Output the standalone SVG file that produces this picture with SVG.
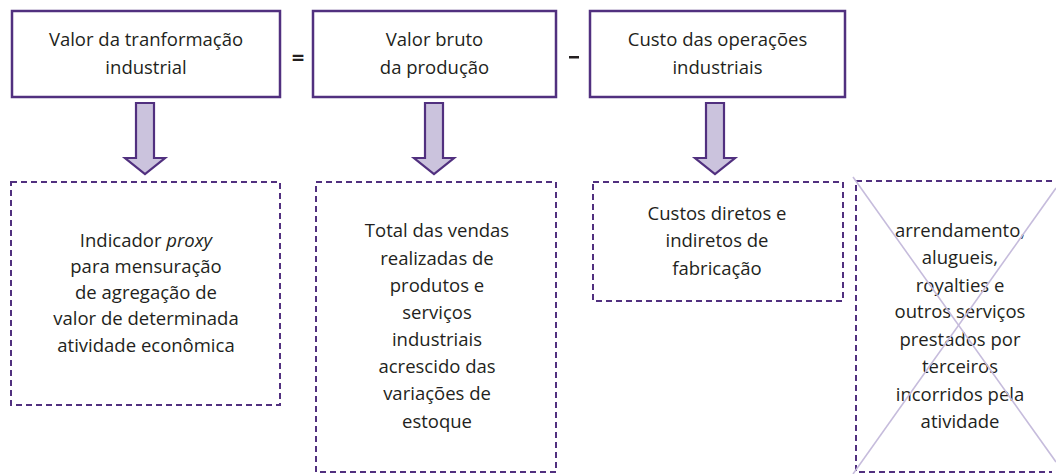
<svg xmlns="http://www.w3.org/2000/svg" width="1056" height="474" viewBox="0 0 1056 474">
<style>
.box{fill:#fff;stroke:#51307f;stroke-width:2.5}
.dbox{fill:none;stroke:#51307f;stroke-width:2;stroke-dasharray:6 4}
.arr{fill:#cbc3dd;stroke:#51307f;stroke-width:2.2;stroke-linejoin:miter}
.t{font-family:"Open Sans","Liberation Sans",sans-serif;font-size:18.5px;fill:#231f20;text-anchor:middle}
.x{stroke:#c6bcdc;stroke-width:1.6}
</style>
<rect width="1056" height="474" fill="#fff"/>
<g id="n1"><rect class="box" x="12" y="11" width="268" height="86"/>
<text class="t" x="146" y="46">Valor da tranformação</text><text class="t" x="146" y="74">industrial</text></g>
<g id="n2"><rect class="box" x="313" y="11" width="243" height="86"/>
<text class="t" x="434.5" y="46">Valor bruto</text><text class="t" x="434.5" y="74">da produção</text></g>
<g id="n3"><rect class="box" x="590" y="11" width="255" height="86"/>
<text class="t" x="717.5" y="46">Custo das operações</text><text class="t" x="717.5" y="74">industriais</text></g>
<g id="ops"><text class="t" x="298" y="65" style="font-size:22px;font-weight:bold">=</text><rect x="569" y="56" width="10" height="2.5" fill="#231f20"/></g>
<g id="connectors">
<path class="arr" d="M136,103 H154 V158 H165 L145,174 L125,158 H136 Z"/>
<path class="arr" d="M425,103 H443 V158 H454 L434,174 L414,158 H425 Z"/>
<path class="arr" d="M706,103 H724 V158 H735 L715,174 L695,158 H706 Z"/>
</g>
<g id="d1"><rect class="dbox" x="11" y="182" width="269" height="223"/>
<text class="t" x="146" y="247">Indicador <tspan font-style="italic">proxy</tspan></text>
<text class="t" x="146" y="273">para mensuração</text>
<text class="t" x="146" y="299">de agregação de</text>
<text class="t" x="146" y="325">valor de determinada</text>
<text class="t" x="146" y="352">atividade econômica</text></g>
<g id="d2"><rect class="dbox" x="316" y="182" width="240" height="290"/>
<text class="t" x="437" y="237">Total das vendas</text>
<text class="t" x="437" y="265">realizadas de</text>
<text class="t" x="437" y="292">produtos e</text>
<text class="t" x="437" y="319">serviços</text>
<text class="t" x="437" y="346">industriais</text>
<text class="t" x="437" y="373">acrescido das</text>
<text class="t" x="437" y="400">variações de</text>
<text class="t" x="437" y="428">estoque</text></g>
<g id="d3"><rect class="dbox" x="593" y="182" width="250" height="119"/>
<text class="t" x="717" y="220">Custos diretos e</text>
<text class="t" x="717" y="247">indiretos de</text>
<text class="t" x="717" y="275">fabricação</text></g>
<g id="d4"><path class="dbox" d="M1052,181 H856 V472 H1052"/>
<text class="t" x="960" y="237">arrendamento,</text>
<text class="t" x="960" y="264">alugueis,</text>
<text class="t" x="960" y="292">royalties e</text>
<text class="t" x="960" y="318">outros serviços</text>
<text class="t" x="960" y="346">prestados por</text>
<text class="t" x="960" y="373">terceiros</text>
<text class="t" x="960" y="401">incorridos pela</text>
<text class="t" x="960" y="428">atividade</text>
<line class="x" x1="853" y1="177" x2="1056" y2="462"/>
<line class="x" x1="853" y1="474" x2="1056" y2="188"/></g>
</svg>
